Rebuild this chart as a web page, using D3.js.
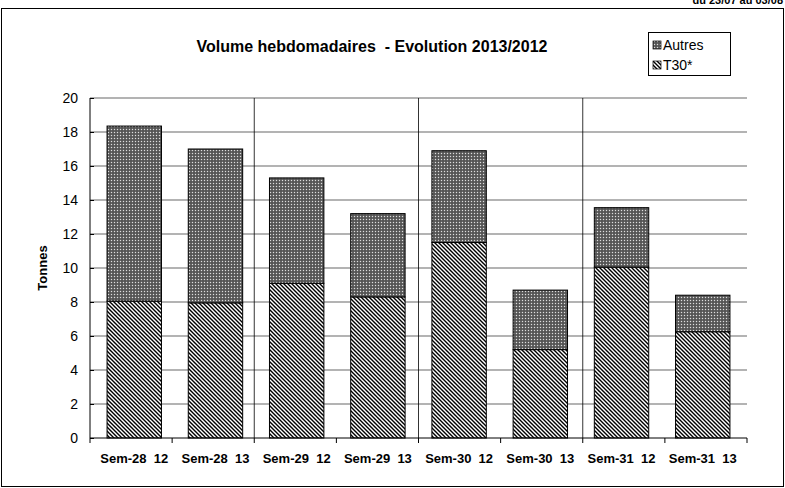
<!DOCTYPE html>
<html><head><meta charset="utf-8">
<script src="https://cdn.jsdelivr.net/npm/d3@7"></script>
<style>body{margin:0;background:#fff}text{font-family:"Liberation Sans",Arial,sans-serif}</style>
</head><body><div id="chart"></div>
<script>
const categories = ["Sem-28  12","Sem-28  13","Sem-29  12","Sem-29  13","Sem-30  12","Sem-30  13","Sem-31  12","Sem-31  13"];
const t30 = [8.05, 7.95, 9.1, 8.3, 11.5, 5.2, 10.05, 6.25];
const autres = [10.3, 9.05, 6.2, 4.9, 5.4, 3.5, 3.5, 2.15];
const yTicks = [0,2,4,6,8,10,12,14,16,18,20];

const W = 785, H = 488;
const svg = d3.select("#chart").append("svg").attr("width", W).attr("height", H);
const defs = svg.append("defs");

// hatch for T30*
const ph = defs.append("pattern").attr("id","hatch").attr("patternUnits","userSpaceOnUse")
  .attr("width",4).attr("height",4);
ph.append("rect").attr("width",4).attr("height",4).attr("fill","#fff");
ph.append("path").attr("d","M-1,-1 L5,5 M-1,3 L1,5 M3,-1 L5,1").attr("stroke","#000").attr("stroke-width",1.4);
// dotted grey for Autres
const pd = defs.append("pattern").attr("id","dots").attr("patternUnits","userSpaceOnUse")
  .attr("width",3).attr("height",3);
pd.append("rect").attr("width",3).attr("height",3).attr("fill","#666");
pd.append("rect").attr("width",1).attr("height",1).attr("fill","#ddd");
pd.append("rect").attr("x",1.5).attr("y",1.5).attr("width",1).attr("height",1).attr("fill","#222");

// frame
svg.append("text").attr("x",783).attr("y",4).attr("text-anchor","end").attr("font-size",11)
  .attr("font-weight","bold").text("du 23/07 au 03/08");
svg.append("rect").attr("x",1.5).attr("y",8.5).attr("width",782).attr("height",478)
  .attr("fill","none").attr("stroke","#000");

const x = d3.scaleBand().domain(categories).range([90,747]).paddingInner(0.33).paddingOuter(0.21);
const y = d3.scaleLinear().domain([0,20]).range([438,98]);

const g = svg.append("g");
// gridlines
g.selectAll(".grid").data(yTicks.slice(1)).join("line")
  .attr("x1",90).attr("x2",747).attr("y1",d=>y(d)).attr("y2",d=>y(d))
  .attr("stroke","#000").attr("stroke-width",0.6);
// group separators
const step = (747-90)/categories.length;
[2,4,6].forEach(i => g.append("line")
  .attr("x1",90+i*step).attr("x2",90+i*step).attr("y1",y(20)).attr("y2",y(0))
  .attr("stroke","#000").attr("stroke-width",0.8));

// bars
categories.forEach((c,i) => {
  g.append("rect").attr("x",x(c)).attr("width",x.bandwidth())
    .attr("y",y(t30[i])).attr("height",y(0)-y(t30[i]))
    .attr("fill","url(#hatch)").attr("stroke","#000").attr("stroke-width",1);
  g.append("rect").attr("x",x(c)).attr("width",x.bandwidth())
    .attr("y",y(t30[i]+autres[i])).attr("height",y(t30[i])-y(t30[i]+autres[i]))
    .attr("fill","url(#dots)").attr("stroke","#000").attr("stroke-width",1);
});

// y axis
const ya = svg.append("g").attr("transform","translate(90,0)")
  .call(d3.axisLeft(y).tickValues(yTicks).tickSize(5).tickPadding(7));
ya.selectAll(".tick line").attr("x2",4);
ya.selectAll("text").attr("font-size",14).attr("fill","#000");
ya.select(".domain").attr("d",`M0,${y(20)}V${y(0)}`);

// x axis
const xa = svg.append("g").attr("transform",`translate(0,${y(0)})`);
xa.append("line").attr("x1",90).attr("x2",747).attr("stroke","#000");
d3.range(9).forEach(i => xa.append("line").attr("x1",90+i*step).attr("x2",90+i*step)
  .attr("y1",0).attr("y2",5).attr("stroke","#000"));
xa.selectAll(".lbl").data(categories).join("text")
  .attr("x",d=>x(d)+x.bandwidth()/2).attr("y",25).attr("text-anchor","middle")
  .attr("font-size",13).attr("font-weight","bold").attr("xml:space","preserve").text(d=>d);

svg.append("text").attr("transform",`translate(47,268) rotate(-90)`).attr("text-anchor","middle")
  .attr("font-size",13).attr("font-weight","bold").text("Tonnes");
svg.append("text").attr("x",372).attr("y",52).attr("text-anchor","middle")
  .attr("font-size",16).attr("font-weight","bold").attr("xml:space","preserve")
  .text("Volume hebdomadaires  - Evolution 2013/2012");

// legend
const lg = svg.append("g").attr("transform","translate(648,32)");
lg.append("rect").attr("x",0.5).attr("y",0.5).attr("width",82).attr("height",43).attr("fill","#fff").attr("stroke","#000");
[["Autres","url(#dots)"],["T30*","url(#hatch)"]].forEach(([n,f],i) => {
  lg.append("rect").attr("x",5).attr("y",9+i*20).attr("width",8).attr("height",8)
    .attr("fill",f).attr("stroke","#000").attr("stroke-width",0.7);
  lg.append("text").attr("x",15).attr("y",18+i*20).attr("font-size",14).text(n);
});
</script></body></html>
